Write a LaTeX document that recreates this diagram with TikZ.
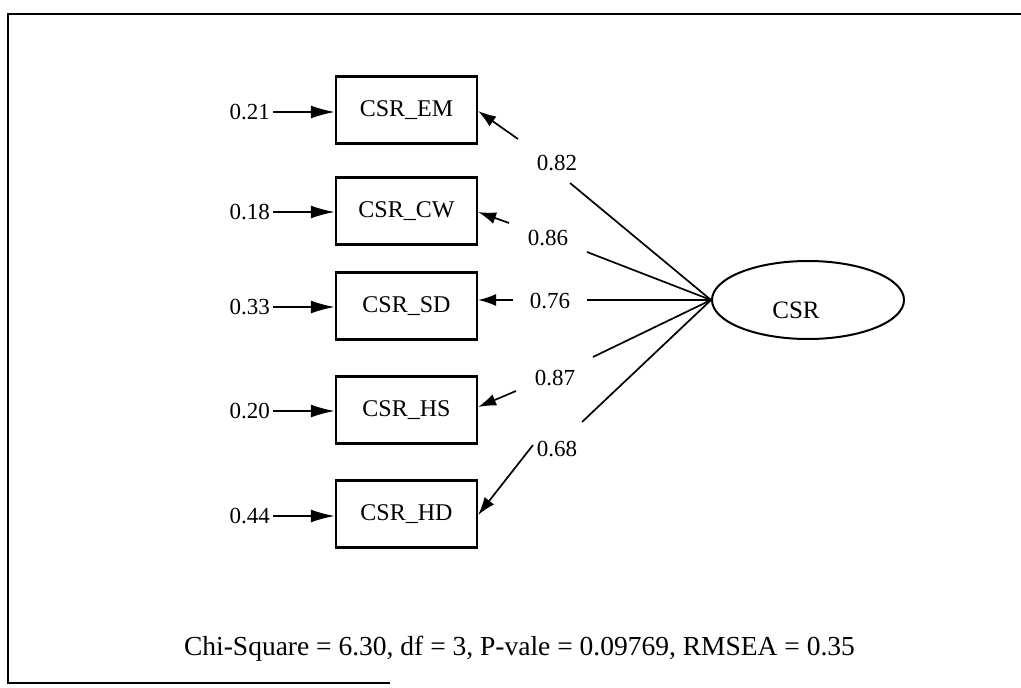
\documentclass[tikz,border=0pt]{standalone}
\usepackage{fontspec}
\setmainfont{Liberation Serif}
\usetikzlibrary{arrows.meta,shapes.geometric}
\begin{document}
\begin{tikzpicture}[x=1pt,y=-1pt,
  every node/.style={font=\fontsize{23}{27}\selectfont},
  obsbox/.style={draw,line width=2.2pt,minimum width=141pt,minimum height=67pt,inner sep=0pt,font=\fontsize{24}{28}\selectfont},
  latent/.style={draw,ellipse,line width=2pt,minimum width=192pt,minimum height=78pt,inner sep=0pt},
  errlbl/.style={anchor=east,inner sep=3pt},
  coef/.style={inner sep=2pt},
  errarrow/.style={line width=2pt,-{Latex[length=24pt,width=13pt]}},
  load/.style={line width=1.7pt},
  loadarrow/.style={line width=1.7pt,-{Latex[length=18pt,width=12pt]}}]
\useasboundingbox (0,0) rectangle (1021,688);
% frame
\draw[line width=1.6pt] (1021,14) -- (8,14) -- (8,683) -- (390,683);

% observed boxes
\node[obsbox] (em) at (406.5,110) {CSR\_EM};
\node[obsbox] (cw) at (406.5,211) {CSR\_CW};
\node[obsbox] (sd) at (406.5,306) {CSR\_SD};
\node[obsbox] (hs) at (406.5,410) {CSR\_HS};
\node[obsbox] (hd) at (406.5,514) {CSR\_HD};

% latent
\node[latent] (csr) at (808,300) {};
\node[anchor=base,font=\fontsize{25}{29}\selectfont] (csrlbl) at (796,318) {CSR};

% error labels
\node[errlbl] (e1) at (273,112) {0.21};
\node[errlbl] (e2) at (273,212) {0.18};
\node[errlbl] (e3) at (273,307) {0.33};
\node[errlbl] (e4) at (273,411) {0.20};
\node[errlbl] (e5) at (273,516) {0.44};
\draw[errarrow] (e1.east) -- (em.west |- e1.east);
\draw[errarrow] (e2.east) -- (cw.west |- e2.east);
\draw[errarrow] (e3.east) -- (sd.west |- e3.east);
\draw[errarrow] (e4.east) -- (hs.west |- e4.east);
\draw[errarrow] (e5.east) -- (hd.west |- e5.east);

% coefficient labels
\node[coef] (c1) at (557,163) {0.82};
\node[coef] (c2) at (548,238) {0.86};
\node[coef] (c3) at (550,301) {0.76};
\node[coef] (c4) at (555,378) {0.87};
\node[coef] (c5) at (557,449) {0.68};

% gap coordinates
\coordinate (a1) at (570,183); \coordinate (b1) at (518,139);
\coordinate (a2) at (587,252); \coordinate (b2) at (509,223);
\coordinate (a3) at (587,300); \coordinate (b3) at (513,300);
\coordinate (a4) at (593,357); \coordinate (b4) at (516,391);
\coordinate (a5) at (582,422); \coordinate (b5) at (533,445);

\draw[load] (csr.west) -- (a1);
\draw[load] (csr.west) -- (a2);
\draw[load] (csr.west) -- (a3);
\draw[load] (csr.west) -- (a4);
\draw[load] (csr.west) -- (a5);
\draw[loadarrow] (b1) -- ([yshift=-1pt]em.east);
\draw[loadarrow] (b2) -- ([yshift=-1pt]cw.east);
\draw[loadarrow] (b3) -- (sd.east |- b3);
\draw[loadarrow] (b4) -- ([yshift=3pt]hs.east);
\draw[loadarrow] (b5) -- ([yshift=-1pt]hd.east);

% fit statistics
\node[anchor=base,font=\fontsize{27.5}{32}\selectfont] (fit) at (519.5,655) {Chi-Square = 6.30, df = 3, P-vale = 0.09769, RMSEA = 0.35};
\end{tikzpicture}
\end{document}
